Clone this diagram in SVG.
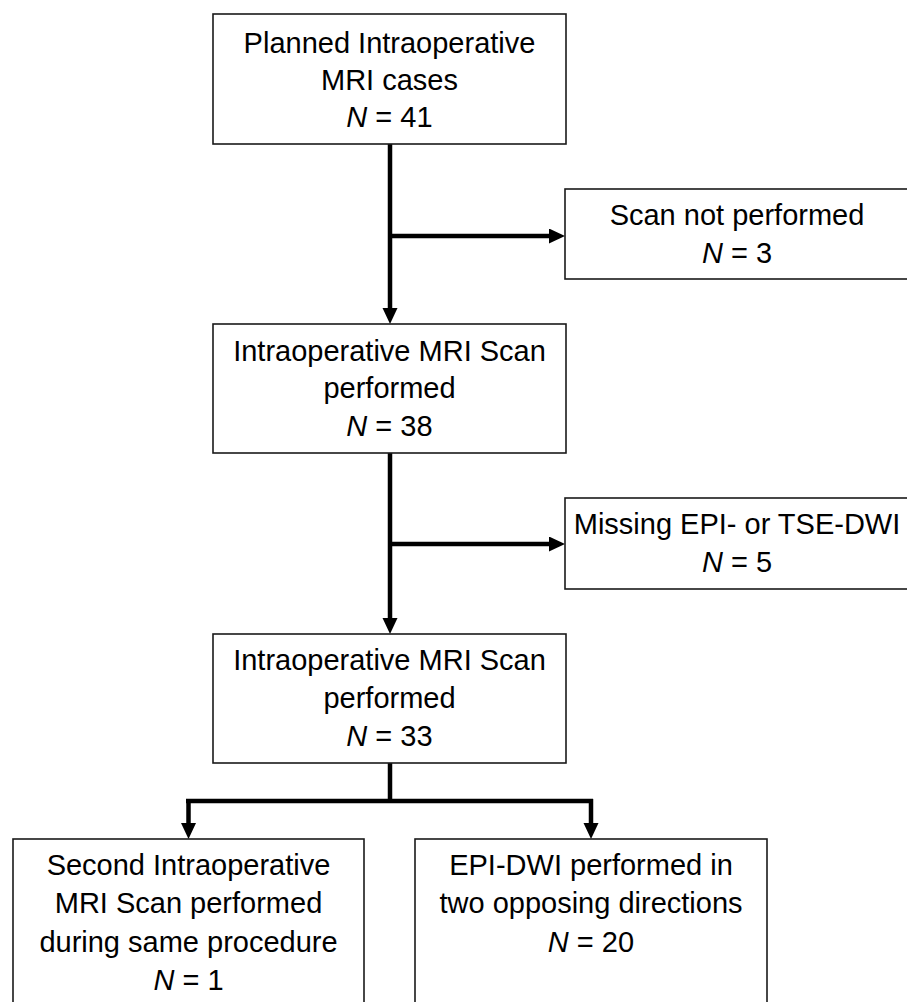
<svg xmlns="http://www.w3.org/2000/svg" width="907" height="1002" viewBox="0 0 907 1002">
<defs>
<style>
.box{fill:#ffffff;stroke:#1a1a1a;stroke-width:1.6}
.t{font-family:"Liberation Sans",Arial,sans-serif;font-size:29px;fill:#000;text-anchor:middle}
.n{font-style:italic}
.c{fill:none;stroke:#000;stroke-width:4.5;stroke-linecap:butt;stroke-linejoin:miter}
</style>
<marker id="ah" markerUnits="userSpaceOnUse" markerWidth="17" markerHeight="16" refX="0" refY="7.5" orient="auto">
<path d="M0,0 L16,7.5 L0,15 Z" fill="#000"/>
</marker>
</defs>
<rect x="0" y="0" width="907" height="1002" fill="#ffffff"/>
<g id="connectors">
<line class="c" x1="390" y1="144" x2="390" y2="308" marker-end="url(#ah)"/>
<line class="c" x1="390" y1="236" x2="549" y2="236" marker-end="url(#ah)"/>
<line class="c" x1="390" y1="453" x2="390" y2="618" marker-end="url(#ah)"/>
<line class="c" x1="390" y1="544" x2="549" y2="544" marker-end="url(#ah)"/>
<polyline class="c" points="390,763 390,801"/>
<polyline class="c" points="186,801 593,801"/>
<line class="c" x1="188.5" y1="799" x2="188.5" y2="823" marker-end="url(#ah)"/>
<line class="c" x1="591" y1="799" x2="591" y2="823" marker-end="url(#ah)"/>
</g>
<g id="node-planned">
<rect class="box" x="213" y="14" width="353" height="130"/>
<text class="t" x="389.5" y="53">Planned Intraoperative</text>
<text class="t" x="389.5" y="90">MRI cases</text>
<text class="t" x="389.5" y="127"><tspan class="n">N</tspan> = 41</text>
</g>
<g id="node-scan-not-performed">
<rect class="box" x="565" y="189" width="350" height="90"/>
<text class="t" x="737" y="225">Scan not performed</text>
<text class="t" x="737" y="263"><tspan class="n">N</tspan> = 3</text>
</g>
<g id="node-scan-38">
<rect class="box" x="213" y="324" width="353" height="129"/>
<text class="t" x="389.5" y="361">Intraoperative MRI Scan</text>
<text class="t" x="389.5" y="398">performed</text>
<text class="t" x="389.5" y="436"><tspan class="n">N</tspan> = 38</text>
</g>
<g id="node-missing">
<rect class="box" x="565" y="498" width="350" height="91"/>
<text class="t" x="737" y="534">Missing EPI- or TSE-DWI</text>
<text class="t" x="737" y="572"><tspan class="n">N</tspan> = 5</text>
</g>
<g id="node-scan-33">
<rect class="box" x="213" y="634" width="353" height="129"/>
<text class="t" x="389.5" y="670">Intraoperative MRI Scan</text>
<text class="t" x="389.5" y="708">performed</text>
<text class="t" x="389.5" y="746"><tspan class="n">N</tspan> = 33</text>
</g>
<g id="node-second">
<rect class="box" x="13" y="839" width="351" height="200"/>
<text class="t" x="188.5" y="875">Second Intraoperative</text>
<text class="t" x="188.5" y="913">MRI Scan performed</text>
<text class="t" x="188.5" y="952">during same procedure</text>
<text class="t" x="188.5" y="990"><tspan class="n">N</tspan> = 1</text>
</g>
<g id="node-epi">
<rect class="box" x="415" y="839" width="352" height="200"/>
<text class="t" x="591" y="875">EPI-DWI performed in</text>
<text class="t" x="591" y="913">two opposing directions</text>
<text class="t" x="591" y="952"><tspan class="n">N</tspan> = 20</text>
</g>
</svg>
